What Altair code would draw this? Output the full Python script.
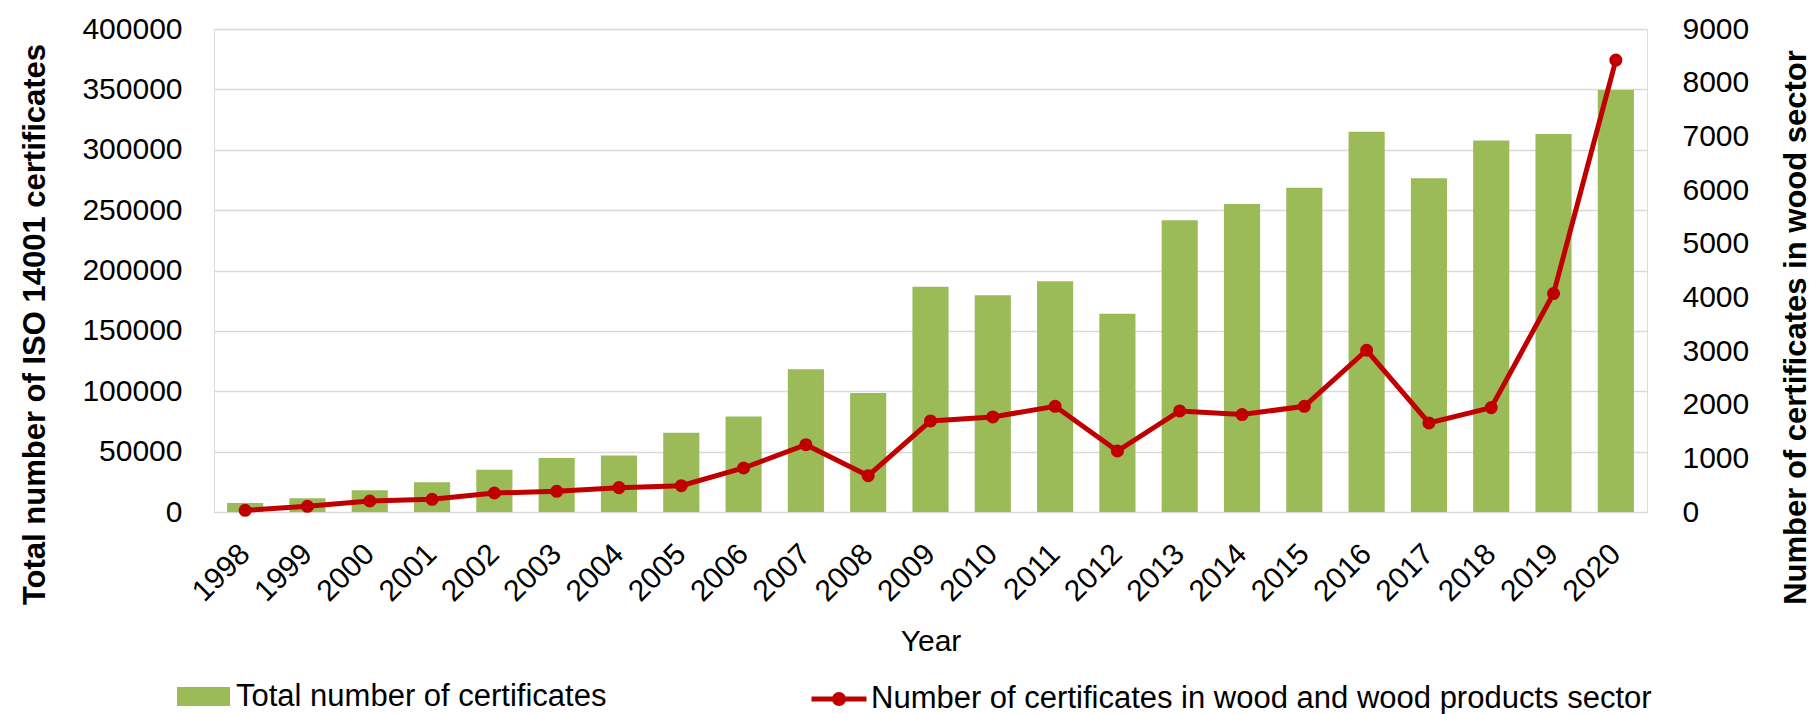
import altair as alt
import pandas as pd

years = ["1998", "1999", "2000", "2001", "2002", "2003", "2004", "2005", "2006", "2007", "2008",
         "2009", "2010", "2011", "2012", "2013", "2014", "2015", "2016", "2017", "2018", "2019", "2020"]
total_certs = [7500, 11300, 18000, 24600, 35000, 44800, 46700, 65700, 79000, 118200, 98600,
               186500, 179600, 191200, 164100, 241700, 255000, 268500, 315000, 276500, 307700, 313000, 349400]
wood_certs = [31, 106, 205, 236, 354, 385, 454, 491, 820, 1255, 677,
              1697, 1771, 1970, 1137, 1883, 1815, 1970, 3014, 1659, 1945, 4071, 8421]
left_ticks = [0, 50000, 100000, 150000, 200000, 250000, 300000, 350000, 400000]
right_ticks = [0, 1000, 2000, 3000, 4000, 5000, 6000, 7000, 8000, 9000]

S1 = "Total number of certificates"
S2 = "Number of certificates in wood and wood products sector"
GREEN = "#9BBB59"
RED = "#C00000"
FONT = "Liberation Sans"

df = pd.DataFrame({"year": years, "total": total_certs, "wood": wood_certs, "s1": S1, "s2": S2})

x_enc = alt.X(
    "year:N", sort=years,
    scale=alt.Scale(paddingInner=0.42, paddingOuter=0.21),
    axis=alt.Axis(
        title="Year", labelAngle=315, labelAlign="right", labelBaseline="middle",
        labelPadding=37, labelFontSize=30, ticks=False, domain=False, grid=False,
        titleFontSize=30, titleFontWeight="normal", titleY=138, titleBaseline="alphabetic",
        labelColor="black", titleColor="black", labelFont=FONT, titleFont=FONT,
    ),
)

right_axis = alt.Axis(
    title="Number of certificates in wood sector", orient="right", values=right_ticks,
    format="d", labelFontSize=30, labelPadding=35, ticks=False, tickSize=0, domain=False,
    grid=False, titleFontSize=31, titleFontWeight="bold", titleAngle=270,
    titleX=149, titleY=298, titleAlign="center", titleBaseline="middle",
    labelColor="black", titleColor="black", labelFont=FONT, titleFont=FONT,
)
right_scale = alt.Scale(domain=[0, 9000], nice=False)

base = alt.Chart(df).encode(x=x_enc)

bars = base.mark_bar().encode(
    y=alt.Y(
        "total:Q", scale=alt.Scale(domain=[0, 400000], nice=False),
        axis=alt.Axis(
            title="Total number of ISO 14001 certificates", orient="left", values=left_ticks,
            format="d", labelFontSize=30, labelPadding=32, ticks=False, tickSize=0, domain=False,
            grid=True, gridColor="#D9D9D9", gridWidth=1.5,
            titleFontSize=31, titleFontWeight="bold", titleAngle=270, titleX=-179, titleY=295,
            titleAlign="center", titleBaseline="middle",
            labelColor="black", titleColor="black", labelFont=FONT, titleFont=FONT,
        ),
    ),
    fill=alt.Fill(
        "s1:N", scale=alt.Scale(domain=[S1], range=[GREEN]),
        legend=alt.Legend(
            title=None, orient="none", legendX=-37, legendY=641, padding=0,
            symbolType="M-1,-0.358L1,-0.358L1,0.358L-1,0.358Z", symbolSize=2809,
            symbolStrokeWidth=0, labelFontSize=31, labelOffset=6, labelLimit=1200,
            labelColor="black", labelFont=FONT,
        ),
    ),
)

line = base.mark_line(strokeWidth=5).encode(
    y=alt.Y("wood:Q", scale=right_scale, axis=right_axis),
    stroke=alt.Stroke(
        "s2:N", scale=alt.Scale(domain=[S2], range=[RED]),
        legend=alt.Legend(
            title=None, orient="none", legendX=595, legendY=640, padding=0,
            symbolType=("M-1,0L1,0 M-0.164,0A0.164,0.164 0 1,0 0.164,0A0.164,0.164 0 1,0 -0.164,0 "
                        "M-0.036,0A0.036,0.036 0 1,0 0.036,0A0.036,0.036 0 1,0 -0.036,0"),
            symbolSize=3025, symbolStrokeWidth=5, labelFontSize=31, labelOffset=2,
            labelLimit=1200, labelColor="black", labelFont=FONT,
        ),
    ),
)

pts = base.mark_circle(size=170, color=RED, opacity=1).encode(
    y=alt.Y("wood:Q", scale=right_scale, axis=right_axis),
)

chart = (
    alt.layer(bars, alt.layer(line, pts))
    .resolve_scale(y="independent")
    .properties(
        width=1433, height=483,
        autosize=alt.AutoSizeParams(type="none"),
        padding={"left": 206, "top": 21, "right": 164, "bottom": 202},
    )
    .configure_view(strokeWidth=0, stroke="transparent")
    .configure(font=FONT)
)

chart.save("out.html", embed_options={"renderer": "svg", "actions": False})
